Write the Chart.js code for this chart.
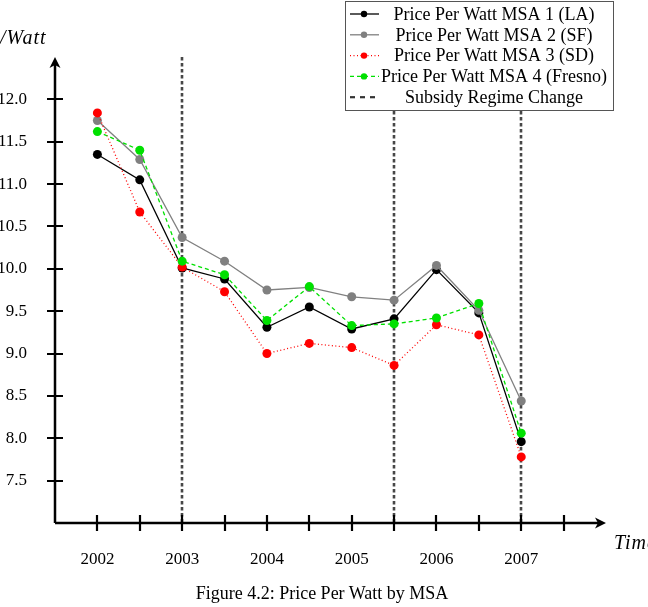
<!DOCTYPE html>
<html>
<head>
<meta charset="utf-8">
<script src="https://cdn.jsdelivr.net/npm/chart.js@4.4.0/dist/chart.umd.min.js"></script>
<style>
  html, body { margin: 0; padding: 0; background: #fff; }
  #wrap { position: relative; width: 648px; height: 607px; }
  #caption {
    position: absolute; left: 0; top: 583px; width: 644px;
    text-align: center; font: 18px 'Liberation Serif', 'DejaVu Serif', serif; color: #000;
  }
</style>
</head>
<body>
<div id="wrap">
  <canvas id="priceChart" width="648" height="607"></canvas>
  <div id="caption">Figure 4.2: Price Per Watt by MSA</div>
</div>
<script>
// half-year observations
const periods = [2002, 2002.5, 2003, 2003.5, 2004, 2004.5, 2005, 2005.5, 2006, 2006.5, 2007];

const priceLA     = [11.35, 11.05, 10.01, 9.88, 9.31, 9.55, 9.29, 9.41, 9.99, 9.48, 7.96];
const priceSF     = [11.75, 11.29, 10.37, 10.09, 9.75, 9.78, 9.67, 9.63, 10.04, 9.51, 8.44];
const priceSD     = [11.84, 10.67, 10.02, 9.73, 9.00, 9.12, 9.07, 8.86, 9.34, 9.22, 7.78];
const priceFresno = [11.62, 11.40, 10.09, 9.93, 9.39, 9.79, 9.33, 9.35, 9.42, 9.59, 8.06];

const regimeChanges = [2003, 2005.5, 2007];

const xTicks = [2002, 2002.5, 2003, 2003.5, 2004, 2004.5, 2005, 2005.5, 2006, 2006.5, 2007, 2007.5];
const yearLabels = [2002, 2003, 2004, 2005, 2006, 2007];
const yTicks = [7.5, 8.0, 8.5, 9.0, 9.5, 10.0, 10.5, 11.0, 11.5, 12.0];

const serif = "'Liberation Serif', 'DejaVu Serif', serif";

function points(values) {
  return periods.map((p, i) => ({ x: p, y: values[i] }));
}

function series(label, values, color, dash, order) {
  return {
    label: label,
    data: points(values),
    borderColor: color,
    backgroundColor: color,
    pointBackgroundColor: color,
    pointBorderWidth: 0,
    pointRadius: 4.5,
    borderWidth: 1.3,
    borderDash: dash,
    tension: 0,
    fill: false,
    order: order
  };
}

// axes with arrow heads, crossing tick marks, regime lines and the boxed legend
const texAxes = {
  id: 'texAxes',
  beforeDatasetsDraw(chart) {
    const { ctx, chartArea, scales: { x } } = chart;
    ctx.save();
    ctx.strokeStyle = '#474747';
    ctx.lineWidth = 2.6;
    ctx.setLineDash([3.5, 2.5]);
    regimeChanges.forEach(v => {
      const px = Math.round(x.getPixelForValue(v));
      ctx.beginPath();
      ctx.moveTo(px, chartArea.top);
      ctx.lineTo(px, chartArea.bottom);
      ctx.stroke();
    });
    ctx.restore();
  },
  afterDraw(chart) {
    const { ctx, chartArea, scales: { x, y } } = chart;
    const left = chartArea.left, bottom = chartArea.bottom;
    ctx.save();
    ctx.strokeStyle = '#000';
    ctx.fillStyle = '#000';
    ctx.lineWidth = 2.5;

    // axis lines
    ctx.beginPath();
    ctx.moveTo(left, bottom);
    ctx.lineTo(chartArea.right - 5, bottom);
    ctx.moveTo(left, bottom);
    ctx.lineTo(left, chartArea.top + 5);
    ctx.stroke();

    // arrow heads
    const tipX = chartArea.right, tipY = chartArea.top;
    ctx.beginPath();
    ctx.moveTo(tipX, bottom);
    ctx.lineTo(tipX - 11, bottom - 5.5);
    ctx.lineTo(tipX - 8, bottom);
    ctx.lineTo(tipX - 11, bottom + 5.5);
    ctx.closePath();
    ctx.fill();
    ctx.beginPath();
    ctx.moveTo(left, tipY);
    ctx.lineTo(left - 5.5, tipY + 11);
    ctx.lineTo(left, tipY + 8);
    ctx.lineTo(left + 5.5, tipY + 11);
    ctx.closePath();
    ctx.fill();

    // tick marks through the axes
    ctx.lineWidth = 2.2;
    ctx.beginPath();
    xTicks.forEach(v => {
      const px = Math.round(x.getPixelForValue(v));
      ctx.moveTo(px, bottom - 8);
      ctx.lineTo(px, bottom + 8);
    });
    yTicks.forEach(v => {
      const py = Math.round(y.getPixelForValue(v));
      ctx.moveTo(left - 8, py);
      ctx.lineTo(left + 8, py);
    });
    ctx.stroke();

    // axis titles
    ctx.font = 'italic 20px ' + serif;
    ctx.letterSpacing = '1px';
    ctx.textBaseline = 'middle';
    ctx.textAlign = 'left';
    ctx.fillText('$/Watt', -11, 39);
    ctx.fillText('Time', 614, 544);
    ctx.letterSpacing = '0px';

    // legend box
    ctx.fillStyle = '#fff';
    ctx.fillRect(345.5, 1.5, 268, 109);
    ctx.strokeStyle = '#555';
    ctx.lineWidth = 1;
    ctx.strokeRect(345.5, 1.5, 268, 109);

    const entries = chart.data.datasets.map(ds => ({
      label: ds.label, color: ds.borderColor, dash: ds.borderDash, dot: true, width: 1.3
    }));
    entries.push({ label: 'Subsidy Regime Change', color: '#333', dash: [5, 5], dot: false, width: 2.2 });

    ctx.font = '18px ' + serif;
    ctx.textAlign = 'center';
    entries.forEach((e, i) => {
      const ry = 14 + i * 20.8;
      ctx.strokeStyle = e.color;
      ctx.lineWidth = e.width;
      ctx.setLineDash(e.dash);
      ctx.beginPath();
      ctx.moveTo(350, ry);
      ctx.lineTo(379, ry);
      ctx.stroke();
      ctx.setLineDash([]);
      if (e.dot) {
        ctx.fillStyle = e.color;
        ctx.beginPath();
        ctx.arc(364, ry, 3.2, 0, Math.PI * 2);
        ctx.fill();
      }
      ctx.fillStyle = '#000';
      ctx.fillText(e.label, 494, ry + 1);
    });
    ctx.restore();
  }
};

new Chart(document.getElementById('priceChart'), {
  type: 'line',
  data: {
    datasets: [
      series('Price Per Watt MSA 1 (LA)', priceLA, '#000000', [], 4),
      series('Price Per Watt MSA 2 (SF)', priceSF, '#808080', [], 3),
      series('Price Per Watt MSA 3 (SD)', priceSD, '#ff0000', [1, 2.5], 2),
      series('Price Per Watt MSA 4 (Fresno)', priceFresno, '#00e000', [4, 3], 1)
    ]
  },
  options: {
    responsive: false,
    animation: false,
    layout: {
      padding: { top: 57, right: 42, left: 0, bottom: 0 }
    },
    plugins: {
      legend: { display: false },
      tooltip: { enabled: false }
    },
    scales: {
      x: {
        type: 'linear',
        min: 2001.5,
        max: 2008,
        grid: { display: false, drawTicks: false },
        border: { display: false },
        ticks: {
          color: '#000',
          padding: 26,
          autoSkip: false,
          maxRotation: 0,
          font: { family: serif, size: 17 },
          callback: function (value) {
            return yearLabels.includes(value) ? String(value) : '';
          }
        },
        afterBuildTicks: function (scale) {
          scale.ticks = xTicks.map(v => ({ value: v }));
        },
        afterFit: function (scale) {
          scale.height = 84;
        }
      },
      y: {
        min: 7,
        max: 12.5,
        grid: { display: false, drawTicks: false },
        border: { display: false },
        ticks: {
          color: '#000',
          padding: 28,
          font: { family: serif, size: 17 },
          callback: function (value) {
            return value.toFixed(1);
          }
        },
        afterBuildTicks: function (scale) {
          scale.ticks = yTicks.map(v => ({ value: v }));
        },
        afterFit: function (scale) {
          scale.width = 55;
        }
      }
    }
  },
  plugins: [texAxes]
});
</script>
</body>
</html>
